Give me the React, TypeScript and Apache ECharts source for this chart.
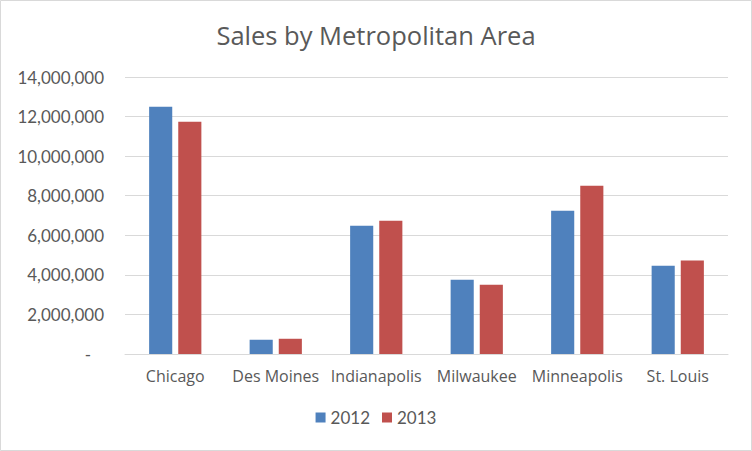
import React, { useEffect, useRef } from "react";
import * as echarts from "echarts";

const categories = ["Chicago", "Des Moines", "Indianapolis", "Milwaukee", "Minneapolis", "St. Louis"];
const seriesNames = ["2012", "2013"];
const sales2012 = [12500000, 720000, 6480000, 3750000, 7240000, 4460000];
const sales2013 = [11740000, 770000, 6740000, 3500000, 8500000, 4720000];
const colors = ["#4f81bd", "#c0504d"];

function fmt(v: number): string {
  if (v === 0) return "-   ";
  return v.toString().replace(/\B(?=(\d{3})+(?!\d))/g, ",");
}

export default function App() {
  const ref = useRef<HTMLDivElement>(null);
  useEffect(() => {
    if (!ref.current) return;
    const chart = echarts.init(ref.current, null, { renderer: "svg" });
    const font = "'Open Sans', sans-serif";
    const numFont = "Lato, sans-serif";
    chart.setOption({
      animation: false,
      backgroundColor: "#ffffff",
      textStyle: { fontFamily: font },
      title: {
        text: "Sales by Metropolitan Area",
        left: "center",
        top: 17,
        textStyle: { fontFamily: font, fontSize: 25.5, fontWeight: "normal", color: "#595959" },
      },
      graphic: [
        {
          type: "rect",
          shape: { x: 0.5, y: 0.5, width: 751, height: 450 },
          style: { fill: "none", stroke: "#d9d9d9", lineWidth: 1 },
          silent: true,
        },
      ],
      legend: {
        data: seriesNames,
        bottom: 20,
        left: "center",
        itemWidth: 10,
        itemHeight: 10,
        itemGap: 12,
        icon: "rect",
        textStyle: { fontFamily: numFont, fontSize: 17, color: "#595959" },
      },
      grid: { left: 125, right: 24, top: 77, bottom: 97, containLabel: false },
      xAxis: {
        type: "category",
        data: categories,
        axisLine: { lineStyle: { color: "#d9d9d9" } },
        axisTick: { show: false },
        axisLabel: { fontFamily: font, fontSize: 16, color: "#595959", margin: 14, interval: 0 },
      },
      yAxis: {
        type: "value",
        min: 0,
        max: 14000000,
        interval: 2000000,
        axisLine: { show: false },
        axisTick: { show: false },
        splitLine: { lineStyle: { color: "#d9d9d9", type: "solid" } },
        axisLabel: { fontFamily: numFont, fontSize: 17, color: "#595959", margin: 21, formatter: fmt },
      },
      series: [
        {
          name: seriesNames[0],
          type: "bar",
          data: sales2012,
          itemStyle: { color: colors[0] },
          barWidth: "23%",
          barGap: "26%",
        },
        {
          name: seriesNames[1],
          type: "bar",
          data: sales2013,
          itemStyle: { color: colors[1] },
          barWidth: "23%",
          barGap: "26%",
        },
      ],
    });
    return () => chart.dispose();
  }, []);
  return (
    <div
      ref={ref}
      style={{ position: "fixed", left: 0, top: 0, width: 752, height: 451 }}
    />
  );
}
